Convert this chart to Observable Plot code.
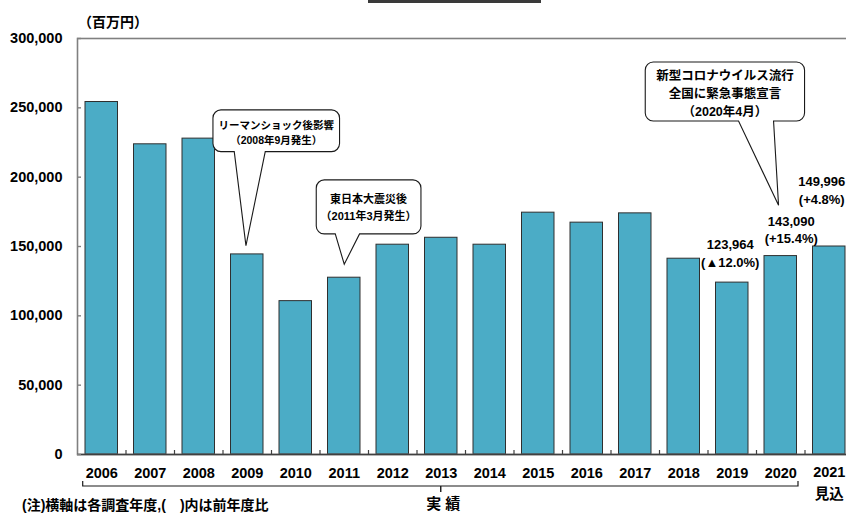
<!DOCTYPE html>
<html>
<head>
<meta charset="utf-8">
<script src="https://cdn.jsdelivr.net/npm/d3@7"></script>
<script src="https://cdn.jsdelivr.net/npm/@observablehq/plot@0.6"></script>
<style>
  body { margin: 0; background: #fff; }
  #wrap { position: relative; width: 846px; height: 513px; overflow: hidden; }
  #topbar { position: absolute; left: 368px; top: 0; width: 173px; height: 3px; background: #3a3a3a; }
  svg { display: block; }
</style>
</head>
<body>
<div id="wrap"><div id="topbar"></div></div>
<script>
// ---- data ----
const years = ["2006","2007","2008","2009","2010","2011","2012","2013","2014","2015","2016","2017","2018","2019","2020","2021"];
const values = [254200, 223700, 227800, 144300, 110600, 127500, 151300, 156300, 151300, 174400, 167200, 173900, 141200, 123964, 143090, 149996];
const yTicks = [0, 50000, 100000, 150000, 200000, 250000, 300000];
const xTickLabels = years.slice(0, 15);
const forecastYear = "2021";
const forecastLabel = "見込";
const actualLabel = "実 績";
const unitLabel = "（百万円）";
const noteText = "(注)横軸は各調査年度,(　)内は前年度比";

const labelYears = ["2019", "2020", "2021"];
const labelValues = ["123,964", "143,090", "149,996"];
const labelChanges = ["(▲12.0%)", "(+15.4%)", "(+4.8%)"];

const calloutYears = ["2009", "2011", "2020"];
const calloutLines = [
  ["リーマンショック後影響", "（2008年9月発生）"],
  ["東日本大震災後", "（2011年3月発生）"],
  ["新型コロナウイルス流行", "全国に緊急事態宣言", "（2020年4月）"]
];

// ---- styling / layout (pixels) ----
const FONT = '"Liberation Sans", "Noto Sans CJK JP", sans-serif';
const labelOffsets = [
  {dx: -1.5, y1: -37.7, y2: -19.3},
  {dx: 11, y1: -34.6, y2: -17},
  {dx: -7, y1: -64.7, y2: -46.4}
];
const calloutLayout = [
  {gap: 8.3, tdx: -0.8, x0: -33, x1: 93.6, y0: -135.7, y1: -94, bL: -11.7, bR: 19.3, font: 10.5, lines: [15, 30]},
  {gap: 13, tdx: 0.5, x0: -28, x1: 76.7, y0: -84.3, y1: -30.3, bL: -9, bR: 15.3, font: 11, lines: [19.3, 35.7]},
  {gap: 50.3, tdx: -1.7, x0: -133.3, x1: 26, y0: -143.3, y1: -84.3, bL: -40, bR: -5, font: 12.5, lines: [13.3, 31.6, 50]}
];

const data = years.map((year, i) => ({year, value: values[i]}));

const chart = Plot.plot({
  width: 846,
  height: 513,
  marginLeft: 77,
  marginRight: -7,
  marginTop: 38,
  marginBottom: 59,
  style: {fontFamily: FONT, background: "transparent", overflow: "hidden"},
  x: {type: "band", domain: years, range: [77, 853], paddingInner: 0.33, paddingOuter: 0.165, round: false},
  y: {domain: [0, 300000]},
  marks: [
    Plot.barY(data, {x: "year", y: "value", fill: "#4BACC6", stroke: "#2f2f2f", strokeWidth: 1}),
    Plot.frame({stroke: "#808080", strokeWidth: 1.6}),
    Plot.ruleY([0], {stroke: "#404040", strokeWidth: 1.4}),
    Plot.tickY(yTicks, {y: d => d, stroke: "#808080", strokeWidth: 1.4, insetRight: 772}),
    Plot.tickX(years.slice(1), {x: d => d, dx: -24.25, stroke: "#404040", strokeWidth: 1.2, insetTop: 412}),
    Plot.axisY({ticks: yTicks, tickSize: 0, tickPadding: 15, tickFormat: d3.format(","), fontSize: 14.5, fontWeight: "bold", fill: "#000", label: null}),
    Plot.axisX({ticks: xTickLabels, tickSize: 0, tickPadding: 13.5, fontSize: 14.5, fontWeight: "bold", fill: "#000", label: null}),
    Plot.text([forecastYear], {x: d => d, frameAnchor: "bottom", dy: 22.7, text: d => d, fontSize: 14.5, fontWeight: "bold", fill: "#000"}),
    Plot.text([forecastLabel], {x: () => forecastYear, frameAnchor: "bottom", dy: 44.5, text: d => d, fontSize: 14.5, fontWeight: "bold", fill: "#000"})
  ]
});

document.getElementById("wrap").appendChild(chart);

const sx = chart.scale("x");
const sy = chart.scale("y");
const cx = v => sx.apply(v) + sx.bandwidth / 2;
const valueOf = yr => values[years.indexOf(yr)];
const svg = d3.select(chart);
const g = svg.append("g").attr("font-family", FONT).attr("font-weight", "bold").attr("fill", "#000");

// unit label
g.append("text").attr("x", 78).attr("y", 21.7).attr("dy", "0.36em").attr("text-anchor", "start").attr("font-size", 14).text(unitLabel);

// data labels
labelYears.forEach((yr, i) => {
  const o = labelOffsets[i];
  const x = cx(yr) + o.dx;
  const y = sy.apply(valueOf(yr));
  g.append("text").attr("x", x).attr("y", y + o.y1).attr("dy", "0.36em").attr("text-anchor", "middle").attr("font-size", 13).text(labelValues[i]);
  g.append("text").attr("x", x).attr("y", y + o.y2).attr("dy", "0.36em").attr("text-anchor", "middle").attr("font-size", 13).text(labelChanges[i]);
});

// callouts
calloutYears.forEach((yr, i) => {
  const L = calloutLayout[i];
  const tx = cx(yr) + L.tdx;
  const ty = sy.apply(valueOf(yr)) - L.gap;
  const x0 = tx + L.x0, x1 = tx + L.x1, y0 = ty + L.y0, y1 = ty + L.y1, r = 8;
  const bL = tx + L.bL, bR = tx + L.bR;
  const p = d3.path();
  p.moveTo(x0 + r, y0);
  p.lineTo(x1 - r, y0);
  p.arcTo(x1, y0, x1, y0 + r, r);
  p.lineTo(x1, y1 - r);
  p.arcTo(x1, y1, x1 - r, y1, r);
  p.lineTo(bR, y1);
  p.lineTo(tx, ty);
  p.lineTo(bL, y1);
  p.lineTo(x0 + r, y1);
  p.arcTo(x0, y1, x0, y1 - r, r);
  p.lineTo(x0, y0 + r);
  p.arcTo(x0, y0, x0 + r, y0, r);
  p.closePath();
  g.append("path").attr("d", p.toString()).attr("fill", "#fff").attr("stroke", "#1a1a1a").attr("stroke-width", 1.1);
  const mid = (x0 + x1) / 2;
  calloutLines[i].forEach((line, j) => {
    g.append("text").attr("x", mid).attr("y", y0 + L.lines[j]).attr("dy", "0.36em")
      .attr("text-anchor", "middle").attr("font-size", L.font).text(line);
  });
});

// bracket for actual years
const bx0 = sx.apply(years[0]) - 2.3;
const bx1 = sx.apply(years[14]) + sx.bandwidth + 1.5;
const by = 486;
const bp = d3.path();
bp.moveTo(bx0, by - 5); bp.lineTo(bx0, by); bp.lineTo(bx1, by); bp.lineTo(bx1, by - 5);
g.append("path").attr("d", bp.toString()).attr("fill", "none").attr("stroke", "#1a1a1a").attr("stroke-width", 1.2);
const bmid = (cx(years[0]) + cx(years[14])) / 2;
g.append("line").attr("x1", bmid).attr("x2", bmid).attr("y1", by).attr("y2", by + 6).attr("stroke", "#1a1a1a").attr("stroke-width", 1.4);
g.append("text").attr("x", bmid + 2.5).attr("y", 504).attr("dy", "0.36em").attr("text-anchor", "middle").attr("font-size", 15).text(actualLabel);

// note
g.append("text").attr("x", 22).attr("y", 505).attr("dy", "0.36em").attr("text-anchor", "start").attr("font-size", 14).text(noteText);
</script>
</body>
</html>
